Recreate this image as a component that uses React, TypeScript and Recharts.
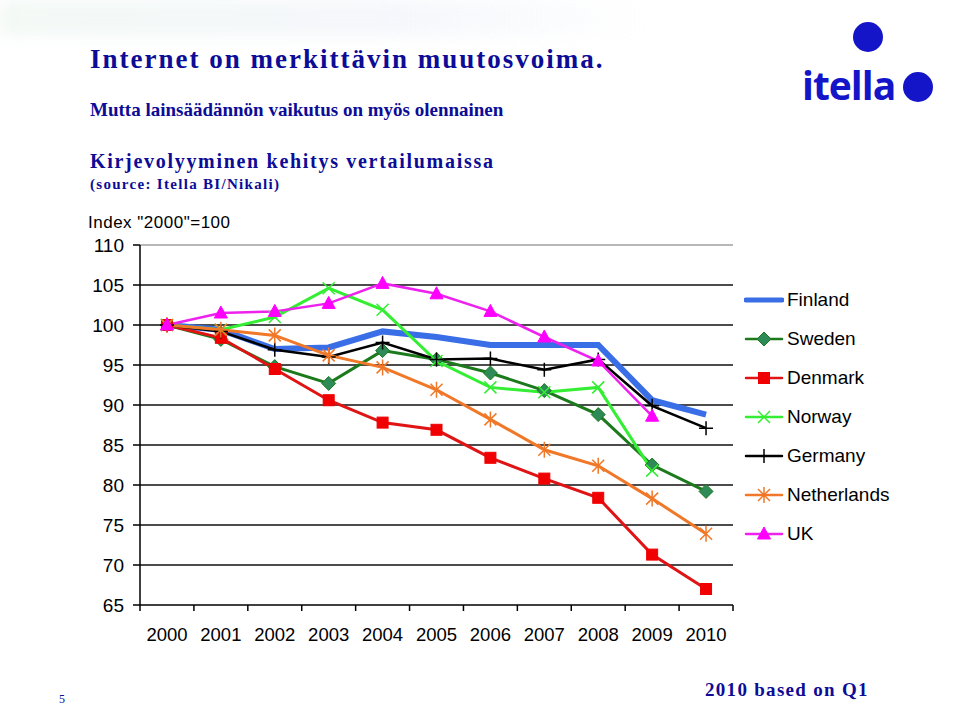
import React from 'react';
import { LineChart, Line, XAxis, YAxis, CartesianGrid, ReferenceLine } from 'recharts';

const years = ['2000', '2001', '2002', '2003', '2004', '2005', '2006', '2007', '2008', '2009', '2010'];
const finland = [100, 99.4, 97.0, 97.2, 99.2, 98.5, 97.5, 97.5, 97.5, 90.6, 88.8];
const sweden = [100, 98.2, 94.8, 92.7, 96.8, 95.7, 94.0, 91.8, 88.8, 82.5, 79.2];
const denmark = [100, 98.4, 94.5, 90.6, 87.8, 86.9, 83.4, 80.8, 78.4, 71.3, 67.0];
const norway = [100, 99.4, 101.0, 104.6, 101.9, 95.5, 92.2, 91.6, 92.2, 81.8, null];
const germany = [100, 99.2, 96.9, 96.0, 97.8, 95.7, 95.8, 94.4, 95.7, 89.9, 87.1];
const netherlands = [100, 99.4, 98.7, 96.2, 94.7, 91.9, 88.2, 84.4, 82.4, 78.3, 73.9];
const uk = [100, 101.5, 101.7, 102.7, 105.2, 103.9, 101.7, 98.5, 95.5, 88.6, null];

const yTicks = [65, 70, 75, 80, 85, 90, 95, 100, 105, 110];
const gridValues = [70, 75, 80, 85, 90, 95, 100, 105];

const data = years.map((year, i) => ({
    year,
    Finland: finland[i],
    Sweden: sweden[i],
    Denmark: denmark[i],
    Norway: norway[i],
    Germany: germany[i],
    Netherlands: netherlands[i],
    UK: uk[i],
}));

const BLUE = '#0c0c96';
const AXIS_FONT = '"Liberation Sans", Arial, sans-serif';
const SERIF = '"Liberation Serif", "Times New Roman", serif';

const PLOT_W = 593;
const HALF_BAND = PLOT_W / years.length / 2;

type MarkerKind = 'none' | 'diamond' | 'square' | 'x' | 'plus' | 'star' | 'triangle';

const series: { key: string; color: string; width: number; marker: MarkerKind; fill?: string }[] = [
    { key: 'Finland', color: '#3a6ee6', width: 6, marker: 'none' },
    { key: 'Sweden', color: '#1c7a1c', width: 3, marker: 'diamond', fill: '#2e8b57' },
    { key: 'Denmark', color: '#e01414', width: 3, marker: 'square', fill: '#f00000' },
    { key: 'Norway', color: '#33ee33', width: 3, marker: 'x' },
    { key: 'Germany', color: '#000000', width: 2.5, marker: 'plus' },
    { key: 'Netherlands', color: '#f07828', width: 3, marker: 'star' },
    { key: 'UK', color: '#ee22ee', width: 2.5, marker: 'triangle', fill: '#ff00ff' },
];

function Marker({ kind, cx, cy, color, fill }: { kind: MarkerKind; cx: number; cy: number; color: string; fill?: string }) {
    switch (kind) {
        case 'diamond':
            return <path d={`M${cx},${cy - 7} L${cx + 7},${cy} L${cx},${cy + 7} L${cx - 7},${cy} Z`} fill={fill} stroke={color} strokeWidth={1} />;
        case 'square':
            return <rect x={cx - 5.5} y={cy - 5.5} width={11} height={11} fill={fill} stroke={fill} />;
        case 'x':
            return <path d={`M${cx - 6},${cy - 6} L${cx + 6},${cy + 6} M${cx - 6},${cy + 6} L${cx + 6},${cy - 6}`} stroke={color} strokeWidth={1.5} />;
        case 'plus':
            return <path d={`M${cx - 7},${cy} L${cx + 7},${cy} M${cx},${cy - 7} L${cx},${cy + 7}`} stroke={color} strokeWidth={1.5} />;
        case 'star':
            return (
                <path
                    d={`M${cx - 6},${cy - 6} L${cx + 6},${cy + 6} M${cx - 6},${cy + 6} L${cx + 6},${cy - 6} M${cx},${cy - 8} L${cx},${cy + 8}`}
                    stroke={color}
                    strokeWidth={1.5}
                />
            );
        case 'triangle':
            return <path d={`M${cx},${cy - 7} L${cx + 6.5},${cy + 5} L${cx - 6.5},${cy + 5} Z`} fill={fill} stroke={fill} />;
        default:
            return null;
    }
}

const makeDot = (kind: MarkerKind, color: string, fill?: string) => (props: any) => {
    const { cx, cy, index, value } = props;
    if (kind === 'none' || cx == null || cy == null || value == null) return <g key={`d-${index}`} />;
    return (
        <g key={`d-${index}`}>
            <Marker kind={kind} cx={cx} cy={cy} color={color} fill={fill} />
        </g>
    );
};

const XTick = (props: any) => {
    const { x, y, payload, index } = props;
    return (
        <g>
            <line x1={x - HALF_BAND} x2={x - HALF_BAND} y1={y} y2={y + 6} stroke="#000" strokeWidth={1.5} />
            {index === years.length - 1 && (
                <line x1={x + HALF_BAND} x2={x + HALF_BAND} y1={y} y2={y + 6} stroke="#000" strokeWidth={1.5} />
            )}
            <text x={x} y={y + 36} textAnchor="middle" fontSize={18.5} fontFamily={AXIS_FONT} fill="#000">
                {payload.value}
            </text>
        </g>
    );
};

const ChartLegend = () => (
    <div style={{ position: 'absolute', left: 744, top: 280, fontFamily: AXIS_FONT, fontSize: 19, color: '#000' }}>
        {series.map((s) => (
            <div key={s.key} style={{ display: 'flex', alignItems: 'center', height: 39 }}>
                <svg width={40} height={20} style={{ marginRight: 3 }}>
                    <line x1={2} x2={38} y1={10} y2={10} stroke={s.color} strokeWidth={s.marker === 'none' ? 5 : 2.5} strokeLinecap="round" />
                    <Marker kind={s.marker} cx={20} cy={10} color={s.color} fill={s.fill} />
                </svg>
                <span>{s.key}</span>
            </div>
        ))}
    </div>
);

export default function App() {
    return (
        <div style={{ position: 'absolute', left: 0, top: 0, width: 960, height: 707, background: '#fff', overflow: 'hidden' }}>
            <div
                style={{
                    position: 'absolute',
                    left: 0,
                    top: 0,
                    width: 650,
                    height: 36,
                    background: 'linear-gradient(90deg, rgba(205,230,215,0.25), rgba(215,222,240,0.25) 60%, rgba(255,255,255,0))',
                    filter: 'blur(8px)',
                }}
            />
            <div style={{ position: 'absolute', left: 90, top: 44, fontFamily: SERIF, fontWeight: 700, fontSize: 27, letterSpacing: 2, color: BLUE, whiteSpace: 'nowrap' }}>
                Internet on merkittävin muutosvoima.
            </div>
            <div style={{ position: 'absolute', left: 90, top: 99, fontFamily: SERIF, fontWeight: 700, fontSize: 19, letterSpacing: 0, color: BLUE, whiteSpace: 'nowrap' }}>
                Mutta lainsäädännön vaikutus on myös olennainen
            </div>
            <div style={{ position: 'absolute', left: 90, top: 150, fontFamily: SERIF, fontWeight: 700, fontSize: 20, letterSpacing: 1.7, color: BLUE, whiteSpace: 'nowrap' }}>
                Kirjevolyyminen kehitys vertailumaissa
            </div>
            <div style={{ position: 'absolute', left: 90, top: 176, fontFamily: SERIF, fontWeight: 700, fontSize: 15, letterSpacing: 1.3, color: BLUE, whiteSpace: 'nowrap' }}>
                (source: Itella BI/Nikali)
            </div>
            <div style={{ position: 'absolute', left: 88, top: 213, fontFamily: AXIS_FONT, fontSize: 17, letterSpacing: 0.5, color: '#000', whiteSpace: 'nowrap' }}>
                Index "2000"=100
            </div>

            <svg style={{ position: 'absolute', left: 770, top: 10 }} width={190} height={100}>
                <circle cx={98} cy={27} r={15} fill="#1414c8" />
                <text x={32} y={90} fontFamily='"Open Sans", "DejaVu Sans", sans-serif' fontWeight={700} fontSize={39} fill="#1414c8" letterSpacing={-1}>
                    itella
                </text>
                <circle cx={148} cy={77} r={15} fill="#1414c8" />
            </svg>

            <div style={{ position: 'absolute', left: 0, top: 0 }}>
                <LineChart width={960} height={707} data={data} margin={{ top: 245, right: 227, bottom: 62, left: 0 }}>
                    <CartesianGrid horizontal vertical={false} horizontalValues={gridValues} stroke="#111" strokeWidth={1.5} />
                    <ReferenceLine y={110} stroke="#a0a0a0" strokeWidth={1.5} />
                    <XAxis
                        dataKey="year"
                        interval={0}
                        padding={{ left: HALF_BAND, right: HALF_BAND }}
                        height={40}
                        stroke="#000"
                        strokeWidth={1.5}
                        tickLine={false}
                        tickSize={0}
                        tickMargin={0}
                        tick={<XTick />}
                    />
                    <YAxis
                        domain={[65, 110]}
                        ticks={yTicks}
                        interval={0}
                        width={140}
                        stroke="#000"
                        strokeWidth={1.5}
                        tickSize={7}
                        tickMargin={9}
                        tick={{ fill: '#000', fontSize: 19, fontFamily: AXIS_FONT }}
                    />
                    <YAxis yAxisId="right" orientation="right" width={0} tick={false} tickLine={false} stroke="#a0a0a0" strokeWidth={1.5} />
                    {series.map((s) => (
                        <Line
                            key={s.key}
                            dataKey={s.key}
                            stroke={s.color}
                            strokeWidth={s.width}
                            dot={makeDot(s.marker, s.color, s.fill)}
                            activeDot={false}
                            connectNulls={false}
                            isAnimationActive={false}
                        />
                    ))}
                </LineChart>
            </div>
            <ChartLegend />

            <div style={{ position: 'absolute', left: 59, top: 692, fontFamily: SERIF, fontSize: 12, color: BLUE }}>5</div>
            <div style={{ position: 'absolute', left: 705, top: 679, fontFamily: SERIF, fontWeight: 700, fontSize: 19, letterSpacing: 1.3, color: BLUE, whiteSpace: 'nowrap' }}>
                2010 based on Q1
            </div>
        </div>
    );
}
